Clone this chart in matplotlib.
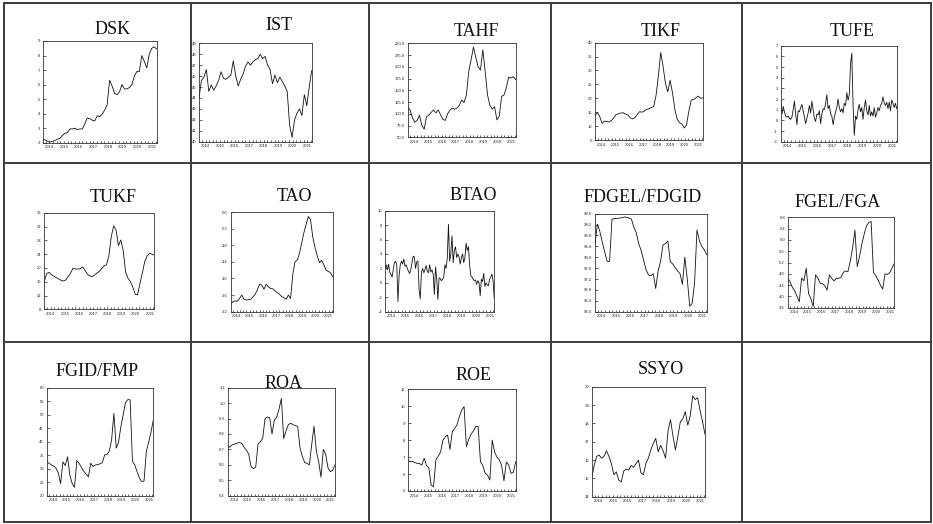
import numpy as np
import matplotlib
matplotlib.use("Agg")
import matplotlib.pyplot as plt
from matplotlib.lines import Line2D

# ---------------- data ----------------
years = [2014, 2015, 2016, 2017, 2018, 2019, 2020, 2021]
X0, X1 = 2013.55, 2021.31

DSK = [2.2, 2.2, 2.1, 2.05, 2.1, 2.15, 2.25, 2.3, 2.5, 2.65, 2.7, 2.95, 2.95, 3.0, 2.9, 2.95,
       2.95, 3.3, 3.7, 3.65, 3.55, 3.5, 3.85, 3.8, 3.95, 4.25, 4.6, 6.3, 5.9, 5.4, 5.3, 5.5,
       6.0, 5.7, 5.7, 5.8, 6.0, 6.6, 6.9, 6.9, 8.0, 7.6, 7.15, 8.1, 8.5, 8.6, 8.45]

IST = [44.0, 45.6, 45.9, 46.6, 44.6, 45.2, 44.7, 45.1, 45.6, 46.4, 45.8, 45.7, 45.9, 46.1, 47.4, 46.0,
       45.1, 45.7, 46.2, 46.9, 47.3, 47.0, 47.3, 47.5, 47.6, 48.0, 47.6, 47.8, 47.0, 46.6, 45.3, 46.1,
       45.4, 45.9, 45.5, 45.1, 44.6, 41.5, 40.4, 42.0, 42.6, 43.0, 42.4, 44.3, 43.3, 45.0, 46.5]

TAHF = [115, 108, 92, 82, 86, 97, 76, 67, 94, 97, 103, 108, 102, 108, 98, 88,
        86, 100, 108, 112, 110, 112, 118, 129, 124, 140, 190, 215, 242, 220, 200, 193,
        236, 190, 140, 118, 110, 115, 87, 95, 137, 140, 155, 178, 176, 179, 173]

TIKF = [14.0, 14.8, 13.5, 11.0, 11.8, 11.6, 11.5, 12.0, 13.0, 14.2, 14.4, 14.7, 14.8, 14.3, 14.0, 13.0,
        12.6, 13.0, 14.2, 15.2, 15.0, 15.4, 16.0, 16.2, 16.7, 17.0, 21.0, 28.0, 36.5, 31.4, 25.4, 22.3,
        26.5, 22.0, 16.0, 12.5, 11.2, 10.8, 9.3, 10.5, 15.5, 19.4, 19.5, 20.2, 20.8, 20.0, 20.2]

TUFE = [2.0, 0.6, 1.3, 0.8, 0.4, 0.3, 0.4, 0.2, 0.1, 0.3, 1.0, 1.8, 0.6, -0.4, 0.9, 0.8,
        1.2, 1.5, 0.9, 0.3, -0.3, 0.2, 0.7, 1.4, 0.7, 1.8, 1.0, 0.2, -0.1, 0.6, 0.5, 0.9,
        -0.3, 0.6, 1.1, 1.0, 1.6, 2.4, 1.1, 1.4, 0.6, 0.4, -0.4, 0.3, 0.8, 1.2, 2.0, 1.2,
        0.8, 1.1, 0.7, 1.6, 1.4, 2.6, 1.9, 2.4, 5.3, 6.3, 1.5, -1.4, 0.4, 0.1, 1.0, 1.5,
        0.8, 1.2, 0.1, 1.2, 1.9, 0.9, 0.5, 1.4, 0.4, 0.8, 0.4, 1.2, 0.3, 0.7, 1.2, 0.9,
        1.4, 1.6, 2.2, 1.6, 1.4, 1.7, 1.1, 1.7, 0.9, 1.9, 1.6, 1.2, 1.6, 1.1]

TUKF = [16.0, 18.4, 18.7, 18.0, 17.6, 17.2, 16.8, 16.4, 16.2, 16.5, 17.5, 18.5, 19.9, 19.7, 19.7, 19.7,
        20.3, 19.3, 18.2, 17.7, 17.5, 17.9, 18.5, 19.0, 19.8, 20.6, 20.9, 23.5, 29.0, 32.2, 31.0, 26.5,
        28.1, 25.0, 18.8, 17.0, 16.0, 14.5, 12.3, 12.2, 15.5, 18.5, 21.8, 23.5, 24.2, 24.0, 23.7]

TAO = [3.38, 3.44, 3.46, 3.45, 3.52, 3.60, 3.50, 3.48, 3.49, 3.50, 3.55, 3.62, 3.72, 3.86, 3.84, 3.74,
       3.86, 3.80, 3.76, 3.75, 3.70, 3.66, 3.62, 3.56, 3.54, 3.50, 3.60, 3.52, 4.10, 4.40, 4.44, 4.60,
       4.85, 5.10, 5.30, 5.49, 5.42, 5.00, 4.75, 4.55, 4.38, 4.44, 4.33, 4.20, 4.17, 4.14, 4.04]

BTAO = [2.0, 2.5, 1.8, 2.6, 1.5, 1.2, 0.8, 1.8, 2.8, 3.0, 2.5, -2.6, 1.0, 2.5, 3.0, 2.6,
        3.3, 2.3, 2.5, 2.0, 1.6, 1.3, 1.9, 2.8, 3.7, 3.6, 2.0, 2.9, 3.0, -1.0, -2.2, 1.5,
        2.0, 1.4, 1.8, 2.4, 1.6, 1.4, 2.5, 1.5, 1.8, 1.2, -1.6, 2.2, 0.5, -2.3, 0.7, 0.6,
        0.3, 0.5, 0.8, 2.5, 2.0, 3.5, 8.1, 3.0, 4.0, 6.5, 2.8, 4.5, 5.0, 3.5, 4.0, 3.6,
        2.6, 3.5, 4.0, 2.8, 3.5, 5.5, 4.5, 5.0, 2.5, 1.0, 0.8, 0.5, 0.3, 0.4, -0.2, 0.3,
        0.0, -1.8, 0.5, 0.2, 1.3, -0.5, 0.0, -0.3, -0.4, 0.5, 0.8, 1.2, 0.2, -2.3]

FDGEL_FDGID = [98.5, 99.22, 98.95, 98.55, 98.2, 97.85, 97.85, 99.40, 99.42, 99.42, 99.44, 99.45,
               99.48, 99.47, 99.44, 99.40, 99.10, 98.9, 98.5, 98.25, 97.9, 97.55, 97.35, 97.32,
               97.4, 96.85, 97.5, 97.85, 98.45, 98.5, 98.6, 97.85, 97.75, 97.62, 97.5, 97.4,
               97.0, 98.0, 97.2, 96.2, 96.3, 97.05, 99.0, 98.6, 98.4, 98.27, 98.1]

FGEL_FGA = [4.64, 4.52, 4.32, 4.2, 4.0, 3.81, 4.65, 4.55, 5.0, 4.1, 3.92, 3.64, 4.76, 4.66, 4.46, 4.45,
            4.38, 4.22, 4.76, 4.64, 4.55, 4.64, 4.64, 4.68, 4.85, 4.90, 4.88, 5.25, 5.70, 6.35, 5.05, 5.42,
            5.85, 6.2, 6.5, 6.62, 6.65, 4.85, 4.74, 4.58, 4.40, 4.26, 4.8, 4.78, 4.84, 5.0, 5.17]

FGID_FMP = [32.6, 32.0, 31.4, 31.0, 30.2, 28.5, 24.5, 32.5, 31.2, 34.4, 27.5, 24.5, 23.1, 33.0, 32.0, 30.5,
            29.0, 28.0, 27.0, 32.0, 30.8, 31.4, 31.5, 31.8, 32.2, 35.1, 35.3, 36.5, 40.6, 50.5, 37.6, 39.8,
            45.5, 49.9, 54.5, 55.6, 55.5, 32.8, 31.4, 28.9, 26.5, 25.3, 25.4, 36.5, 39.8, 43.5, 48.0]

ROA = [0.707, 0.718, 0.73, 0.735, 0.74, 0.745, 0.74, 0.715, 0.695, 0.67, 0.59, 0.575, 0.585, 0.735, 0.75, 0.77,
       0.90, 0.91, 0.905, 0.80, 0.89, 0.91, 0.96, 1.03, 0.77, 0.82, 0.86, 0.87, 0.86, 0.855, 0.85, 0.71,
       0.655, 0.615, 0.61, 0.60, 0.73, 0.85, 0.69, 0.62, 0.52, 0.70, 0.67, 0.58, 0.556, 0.565, 0.60]

ROE = [6.83, 6.73, 6.75, 6.68, 6.63, 6.62, 6.53, 6.93, 6.5, 6.38, 5.35, 5.25, 6.83, 7.05, 7.3, 8.0,
       8.2, 8.3, 7.45, 8.5, 8.7, 8.9, 9.39, 9.78, 9.98, 7.6, 8.05, 8.35, 8.55, 8.8, 8.8, 6.73,
       6.5, 6.04, 5.94, 5.65, 8.0, 7.3, 7.0, 6.85, 6.5, 5.6, 6.7, 6.55, 6.04, 6.1, 6.73]

SSYO = [15.0, 15.7, 16.2, 16.27, 16.1, 16.2, 16.5, 16.2, 15.8, 15.2, 15.35, 14.9, 14.8, 15.4, 15.5, 15.45,
        15.7, 15.6, 15.8, 16.0, 15.3, 15.2, 15.82, 16.1, 16.55, 16.9, 17.18, 16.45, 16.8, 16.5, 16.1, 17.6,
        18.2, 17.3, 16.55, 17.3, 18.1, 18.25, 18.64, 17.9, 18.4, 19.5, 19.3, 19.4, 18.7, 18.1, 17.4]

titles = ["DSK", "IST", "TAHF", "TIKF", "TUFE", "TUKF", "TAO", "BTAO", "FDGEL/FDGID",
          "FGEL/FGA", "FGID/FMP", "ROA", "ROE", "SSYO"]
series = [DSK, IST, TAHF, TIKF, TUFE, TUKF, TAO, BTAO, FDGEL_FDGID, FGEL_FGA,
          FGID_FMP, ROA, ROE, SSYO]
yticks = [
    [2, 3, 4, 5, 6, 7, 8, 9],
    [40, 41, 42, 43, 44, 45, 46, 47, 48, 49],
    [50, 75, 100, 125, 150, 175, 200, 225, 250],
    [5, 10, 15, 20, 25, 30, 35, 40],
    [-2, -1, 0, 1, 2, 3, 4, 5, 6, 7],
    [8, 12, 16, 20, 24, 28, 32, 36],
    [3.2, 3.6, 4.0, 4.4, 4.8, 5.2, 5.6],
    [-4, -2, 0, 2, 4, 6, 8, 10],
    [96.0, 96.4, 96.8, 97.2, 97.6, 98.0, 98.4, 98.8, 99.2, 99.6],
    [3.6, 4.0, 4.4, 4.8, 5.2, 5.6, 6.0, 6.4, 6.8],
    [20, 25, 30, 35, 40, 45, 50, 55, 60],
    [0.4, 0.5, 0.6, 0.7, 0.8, 0.9, 1.0, 1.1],
    [5, 6, 7, 8, 9, 10, 11],
    [14, 15, 16, 17, 18, 19, 20],
]
ylabel_fmt = ["%d", "%d", "%.1f", "%d", "%d", "%d", "%.1f", "%d", "%.1f", "%.1f",
              "%d", "%.1f", "%d", "%d"]

# ---------------- layout (pixels) ----------------
W, H = 933, 524
axes_px = [
    (42.7, 156.7, 41.0, 142.7),
    (199.0, 311.7, 43.3, 141.7),
    (407.7, 515.7, 43.3, 137.3),
    (595.0, 703.0, 42.7, 140.0),
    (780.7, 896.7, 45.7, 141.7),
    (44.3, 154.3, 212.7, 309.3),
    (230.7, 332.7, 212.0, 311.7),
    (385.0, 494.3, 210.7, 311.7),
    (595.0, 706.7, 213.7, 311.7),
    (787.7, 894.3, 217.3, 307.7),
    (46.7, 153.3, 387.7, 495.7),
    (227.7, 335.0, 387.7, 495.7),
    (407.7, 515.7, 389.3, 491.0),
    (591.7, 705.0, 386.7, 496.7),
]
title_px = [
    (113, 29), (279, 26), (476, 31.7), (661, 31), (851.7, 31),
    (113, 197.3), (294, 196), (473, 195.7), (642.7, 197.3), (837.7, 202.7),
    (96.7, 371.7), (283.3, 383.3), (473.3, 375), (661, 370),
]

fig = plt.figure(figsize=(W / 100, H / 100), dpi=100)
fig.patch.set_facecolor("white")

# table grid
col_x = [4, 190.5, 368.5, 550.5, 741.5, 931]
row_y = [2.5, 163, 341.5, 521.5]
gc = "#3c3c3c"
for x in col_x:
    fig.add_artist(Line2D([x / W, x / W], [1 - row_y[0] / H, 1 - row_y[-1] / H],
                          transform=fig.transFigure, color=gc, lw=1.4))
for y in row_y:
    fig.add_artist(Line2D([col_x[0] / W, col_x[-1] / W], [1 - y / H, 1 - y / H],
                          transform=fig.transFigure, color=gc, lw=1.4))

quarters = np.arange(2013.75, 2021.3, 0.25)

for k in range(14):
    l, r, t, b = axes_px[k]
    ax = fig.add_axes([l / W, 1 - b / H, (r - l) / W, (b - t) / H])
    vals = series[k]
    xs = np.linspace(X0, X1, len(vals))
    ax.plot(xs, vals, color="#111111", lw=0.6)
    ax.set_xlim(X0, X1)
    yt = yticks[k]
    ax.set_ylim(yt[0], yt[-1])
    ax.set_yticks(yt)
    ax.set_yticklabels([ylabel_fmt[k] % v for v in yt])
    ax.set_xticks(years)
    ax.set_xticklabels([str(y) for y in years])
    ax.set_xticks(quarters, minor=True)
    ax.tick_params(axis="both", which="major", direction="in", length=1.8, width=0.5,
                   labelsize=3, pad=2, colors="#222222")
    ax.tick_params(axis="x", which="minor", direction="in", length=1.2, width=0.5,
                   colors="#222222")
    for lab in ax.get_xticklabels() + ax.get_yticklabels():
        lab.set_fontfamily("Liberation Sans")
    for sp in ax.spines.values():
        sp.set_linewidth(0.6)
        sp.set_color("#333333")
    tx, ty = title_px[k]
    fig.text(tx / W, 1 - ty / H, titles[k], ha="center", va="center",
             fontsize=13, family="Liberation Serif", color="#111111")

fig.savefig("out.png", dpi=100, facecolor="white")
